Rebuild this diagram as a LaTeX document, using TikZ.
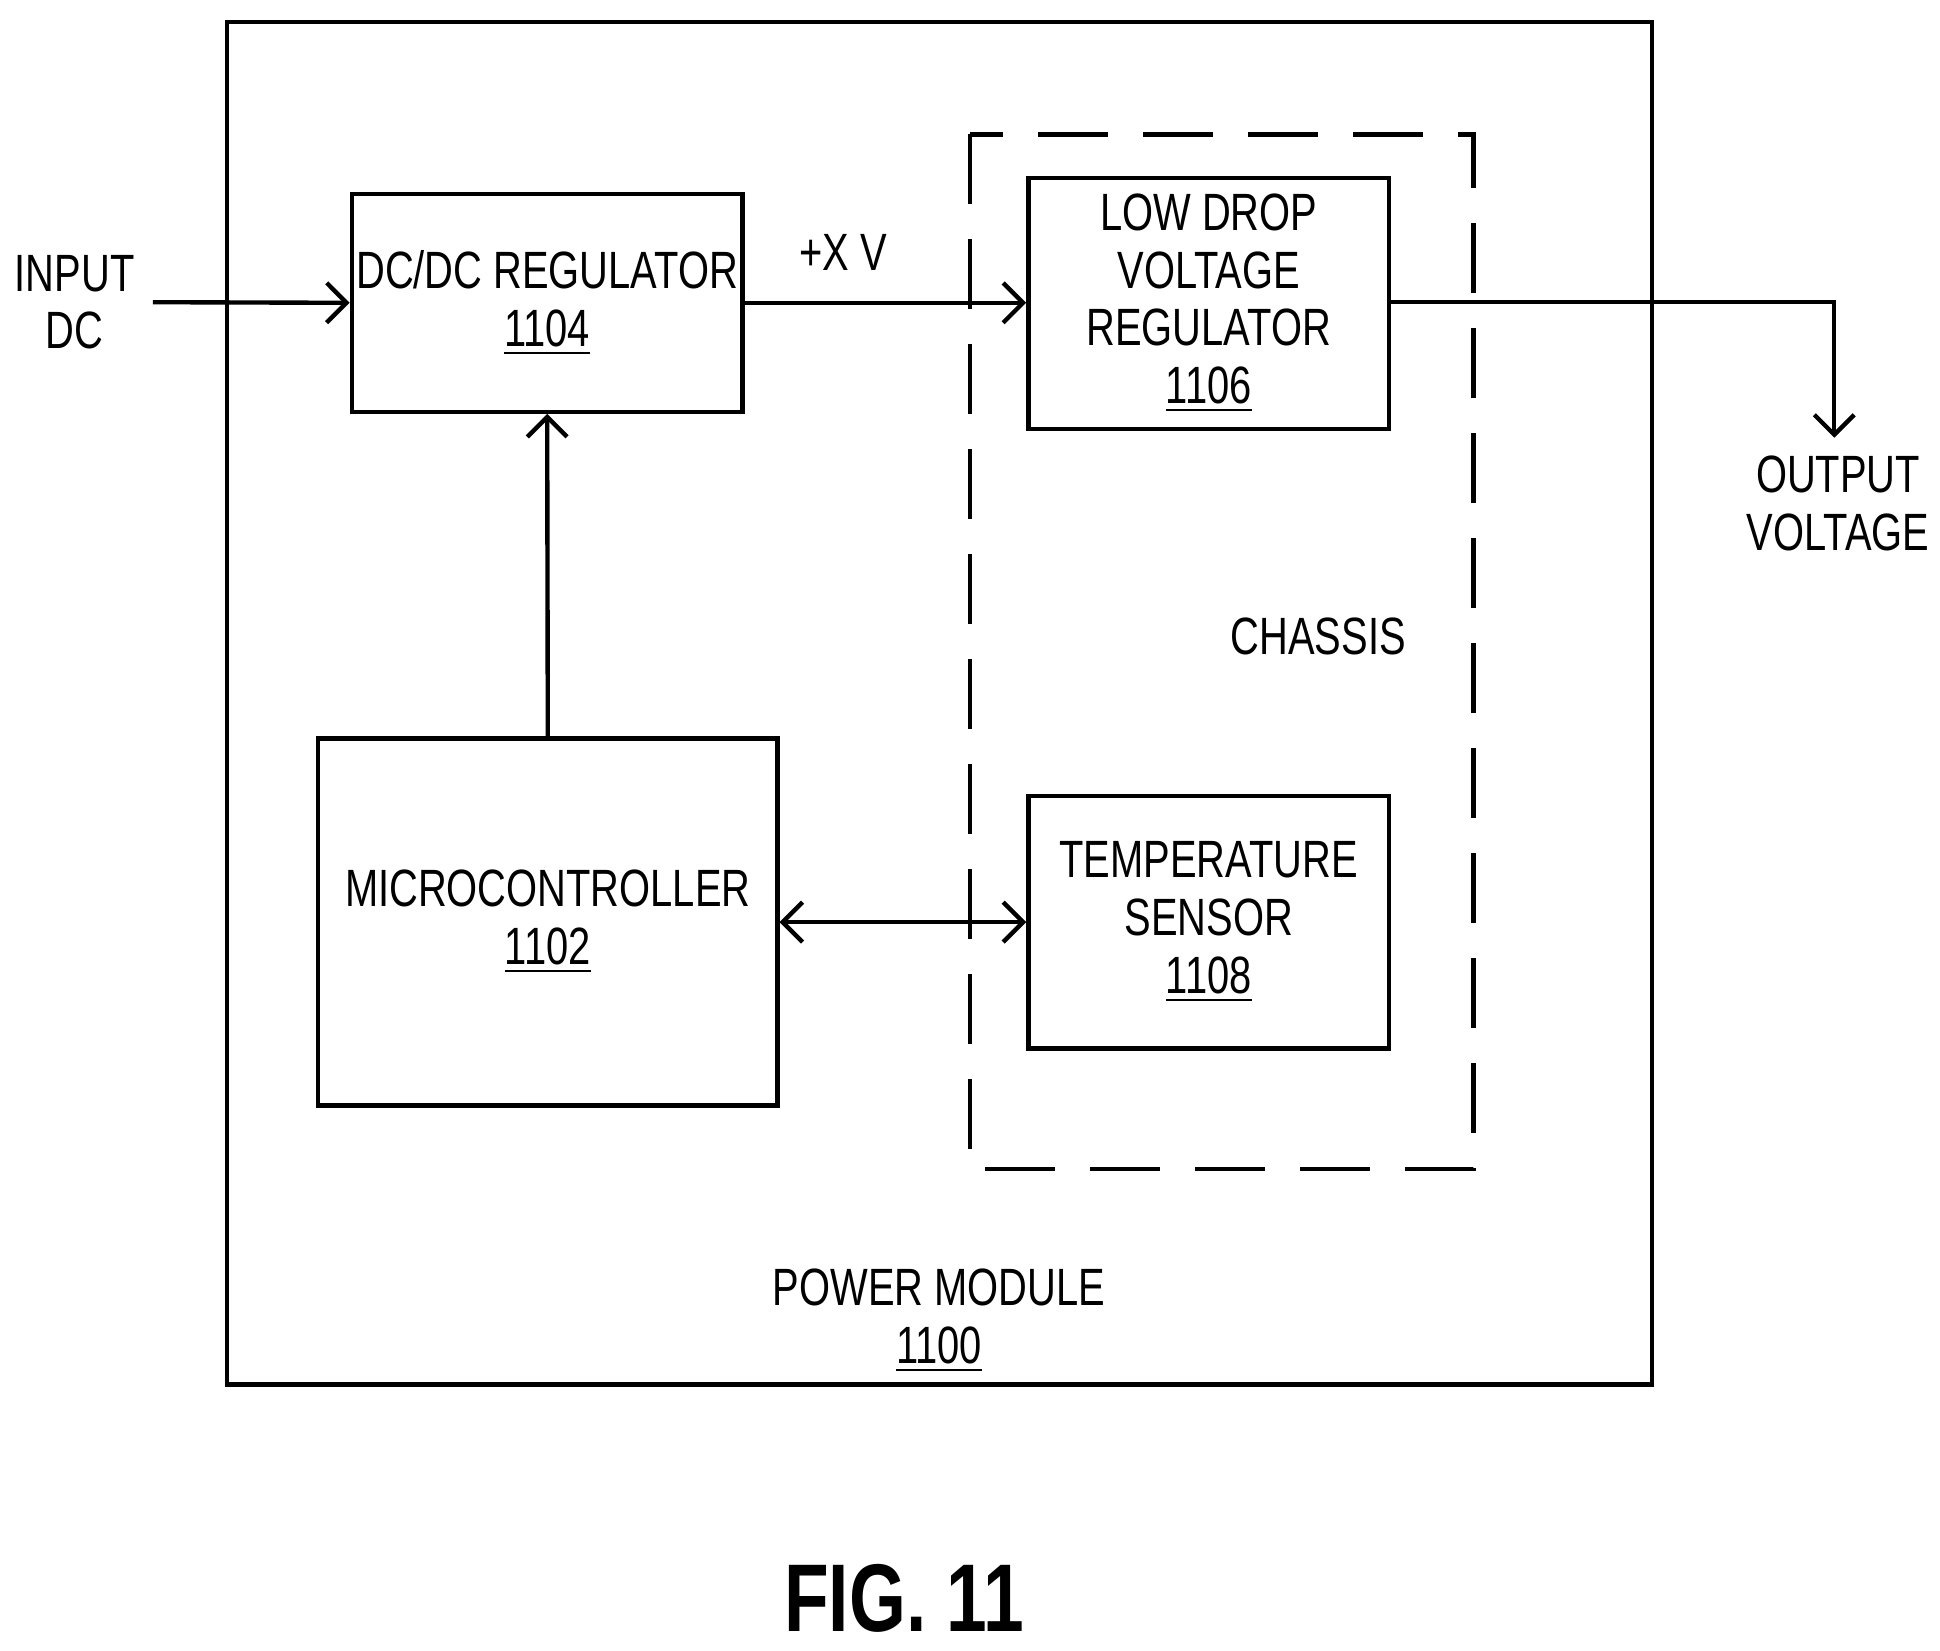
\documentclass[tikz,border=0pt]{standalone}
\usepackage{fontspec}
\setmainfont{Liberation Sans}[FakeStretch=0.76]
\usetikzlibrary{positioning,arrows.meta}
\tikzset{
  blk/.style={rectangle, draw=black, line width=1pt, inner sep=0pt, align=center, font=\fontsize{12}{13.2}\selectfont},
  lbl/.style={align=center, inner sep=0pt, font=\fontsize{12}{13.2}\selectfont},
  >={Straight Barb[length=1.6mm,width=3.2mm]},
  ln/.style={line width=1pt, ->}
}
\begin{document}
\begin{tikzpicture}[x=0.01cm,y=-0.01cm]
	\useasboundingbox (0,0) rectangle (1560,1327);
	\node[blk, minimum width=11.45cm, minimum height=10.95cm] (module) at (755.5,565.5) {};
	\draw[line width=1.1pt, dash pattern=on 16pt off 8pt] (780,108) rectangle (1185,940);
	\node[blk, minimum width=3.14cm, minimum height=1.75cm] (dcdc) at (440,243.5) {DC/DC REGULATOR\\\underline{1104}};
	\node[blk, minimum width=2.9cm, minimum height=2.02cm] (ldo) at (972,244) {LOW DROP\\VOLTAGE\\REGULATOR\\\underline{1106}};
	\node[blk, minimum width=3.69cm, minimum height=2.95cm] (micro) at (440.5,741.5) {MICROCONTROLLER\\\underline{1102}};
	\node[blk, minimum width=2.9cm, minimum height=2.03cm] (temp) at (972,741.5) {TEMPERATURE\\SENSOR\\\underline{1108}};
	\node[lbl] (input) at (60,243) {INPUT\\DC};
	\node[lbl] (output) at (1478,405) {OUTPUT\\VOLTAGE};
	\node[lbl] (chassis) at (1060,512) {CHASSIS};
	\node[lbl] (pwr) at (755,1062) {POWER MODULE\\\underline{1100}};
	\node[lbl] (xv) at (678,203) {+X V};
	\node[inner sep=0pt, font=\bfseries\fontsize{22}{26}\selectfont] (fig) at (727,1285) {FIG. 11};
	\coordinate (start) at (123,243);
	\coordinate (bend) at (1475,243);
	\coordinate (outend) at (1475,352);

	\draw[ln] (start) -- (dcdc.west);
	\draw[ln] (dcdc.east) -- (ldo.west |- dcdc.east);
	\draw[ln] (ldo.east |- bend) -- (bend) -- (outend);
	\draw[ln] (micro.north) -- (dcdc.south);
	\draw[ln, <->] (micro.east) -- (temp.west);
\end{tikzpicture}
\end{document}
